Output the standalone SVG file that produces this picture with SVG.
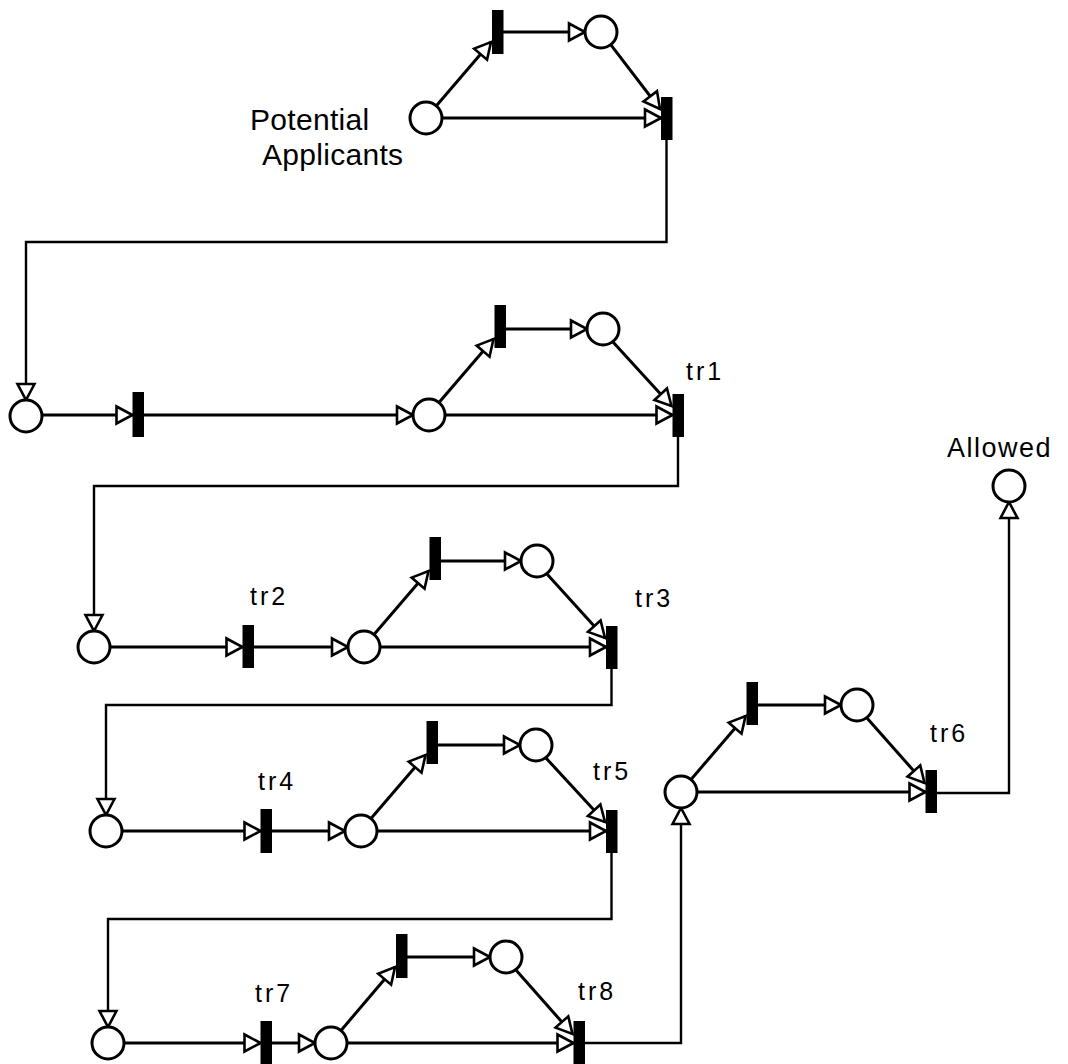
<svg xmlns="http://www.w3.org/2000/svg" width="1068" height="1064" viewBox="0 0 1068 1064">
<style>
.pl{fill:#fff;stroke:#000;stroke-width:3}
.tr{fill:#000}
.arc{fill:none;stroke:#000;stroke-width:3;marker-end:url(#ah)}
.exa{fill:none;stroke:#000;stroke-width:2.4;marker-end:url(#ah)}
.lb{font-family:"Liberation Sans",Arial,sans-serif;font-size:25px;letter-spacing:3px;fill:#000}
.big{font-family:"Liberation Sans",Arial,sans-serif;font-size:30px;letter-spacing:0.3px;fill:#000}
</style>
<defs>
<marker id="ah" markerUnits="userSpaceOnUse" markerWidth="20" markerHeight="20" viewBox="-1.5 -1.5 20 20" refX="16" refY="8.5" orient="auto" overflow="visible">
<path d="M0,0 L16,8.5 L0,17 z" fill="#fff" stroke="#000" stroke-width="2.6"/>
</marker>
</defs>
<rect width="1068" height="1064" fill="#fff"/>
<g id="connectors">
<line class="arc" x1="436.4" y1="105.8" x2="491" y2="42"/>
<line class="arc" x1="503" y1="32" x2="585" y2="32"/>
<line class="arc" x1="610.7" y1="44.7" x2="660" y2="109"/>
<line class="arc" x1="442" y1="118" x2="661" y2="118"/>
<polyline class="exa" points="666.5,140 666.5,242 26,242 26,400"/>
<line class="arc" x1="42" y1="415" x2="132.5" y2="415"/>
<line class="arc" x1="143.5" y1="415" x2="413" y2="415"/>
<line class="arc" x1="439" y1="402.5" x2="493.5" y2="339"/>
<line class="arc" x1="505.5" y1="329" x2="587" y2="329"/>
<line class="arc" x1="612.5" y1="341.5" x2="671.5" y2="406"/>
<line class="arc" x1="445" y1="415" x2="672.5" y2="415"/>
<polyline class="exa" points="678,437 678,486 94,486 94,631"/>
<line class="arc" x1="110" y1="647" x2="242.5" y2="647"/>
<line class="arc" x1="253.5" y1="647" x2="348" y2="647"/>
<line class="arc" x1="374" y1="634.5" x2="428.5" y2="571"/>
<line class="arc" x1="440.5" y1="561" x2="521" y2="561"/>
<line class="arc" x1="546.5" y1="573.5" x2="605" y2="638"/>
<line class="arc" x1="380" y1="647" x2="606" y2="647"/>
<polyline class="exa" points="611.5,669 611.5,705 106,705 106,815"/>
<line class="arc" x1="122" y1="831" x2="260.5" y2="831"/>
<line class="arc" x1="271.5" y1="831" x2="345" y2="831"/>
<line class="arc" x1="371" y1="818.5" x2="425.5" y2="755"/>
<line class="arc" x1="437.5" y1="745" x2="520" y2="745"/>
<line class="arc" x1="545.5" y1="757.5" x2="605" y2="822"/>
<line class="arc" x1="377" y1="831" x2="606" y2="831"/>
<polyline class="exa" points="611.5,853 611.5,919 108,919 108,1027"/>
<line class="arc" x1="124" y1="1043" x2="260.5" y2="1043"/>
<line class="arc" x1="271.5" y1="1043" x2="315" y2="1043"/>
<line class="arc" x1="341" y1="1030.5" x2="395" y2="967"/>
<line class="arc" x1="407" y1="957" x2="490" y2="957"/>
<line class="arc" x1="515.5" y1="969.5" x2="572.5" y2="1034"/>
<line class="arc" x1="347" y1="1043" x2="573.5" y2="1043"/>
<polyline class="exa" points="584.5,1043 681,1043 681,808"/>
<line class="arc" x1="691" y1="779.5" x2="745.5" y2="716"/>
<line class="arc" x1="757.5" y1="705" x2="841" y2="705"/>
<line class="arc" x1="866.5" y1="717.5" x2="924.5" y2="783"/>
<line class="arc" x1="697" y1="792" x2="925.5" y2="792"/>
<polyline class="exa" points="936.5,793 1009,793 1009,502"/>
</g>
<g id="block0">
<circle id="potential-applicants" class="pl" cx="426" cy="118" r="16"/>
<rect class="tr" x="492" y="10" width="11.5" height="44"/>
<circle class="pl" cx="601" cy="32" r="16"/>
<rect class="tr" x="661" y="97" width="11.5" height="43"/>
<text class="big" x="250" y="130">Potential</text>
<text class="big" x="262" y="165">Applicants</text>
</g>
<g id="block1">
<circle class="pl" cx="26" cy="416" r="16"/>
<rect class="tr" x="132.5" y="392" width="11.5" height="45"/>
<circle class="pl" cx="429" cy="415" r="16"/>
<rect class="tr" x="494.5" y="305" width="11.5" height="43"/>
<circle class="pl" cx="603" cy="329" r="16"/>
<rect id="tr1" class="tr" x="672.5" y="394" width="11.5" height="43"/>
<text class="lb" x="686" y="380">tr1</text>
</g>
<g id="block2">
<circle class="pl" cx="94" cy="647" r="16"/>
<rect id="tr2" class="tr" x="242.5" y="625" width="11.5" height="43"/>
<circle class="pl" cx="364" cy="647" r="16"/>
<rect class="tr" x="429.5" y="537" width="11.5" height="43"/>
<circle class="pl" cx="537" cy="561" r="16"/>
<rect id="tr3" class="tr" x="606" y="626" width="11.5" height="43"/>
<text class="lb" x="250" y="605">tr2</text>
<text class="lb" x="635" y="607">tr3</text>
</g>
<g id="block3">
<circle class="pl" cx="106" cy="831" r="16"/>
<rect id="tr4" class="tr" x="260.5" y="809" width="11.5" height="44"/>
<circle class="pl" cx="361" cy="831" r="16"/>
<rect class="tr" x="426.5" y="721" width="11.5" height="43"/>
<circle class="pl" cx="536" cy="745" r="16"/>
<rect id="tr5" class="tr" x="606" y="810" width="11.5" height="43"/>
<text class="lb" x="258" y="790">tr4</text>
<text class="lb" x="593" y="780">tr5</text>
</g>
<g id="block4">
<circle class="pl" cx="108" cy="1043" r="16"/>
<rect id="tr7" class="tr" x="260.5" y="1021" width="11.5" height="45"/>
<circle class="pl" cx="331" cy="1043" r="16"/>
<rect class="tr" x="396" y="934" width="11.5" height="44"/>
<circle class="pl" cx="506" cy="957" r="16"/>
<rect id="tr8" class="tr" x="573.5" y="1021" width="11.5" height="45"/>
<text class="lb" x="255" y="1002">tr7</text>
<text class="lb" x="578" y="1000">tr8</text>
</g>
<g id="block5">
<circle class="pl" cx="681" cy="792" r="16"/>
<rect class="tr" x="746.5" y="682" width="11.5" height="43"/>
<circle class="pl" cx="857" cy="705" r="16"/>
<rect id="tr6" class="tr" x="925.5" y="770" width="11.5" height="43"/>
<text class="lb" x="930" y="742">tr6</text>
</g>
<g id="allowed">
<circle class="pl" cx="1009" cy="486" r="16"/>
<text class="big" x="947" y="457" style="font-size:27px;letter-spacing:1.5px">Allowed</text>
</g>
</svg>
